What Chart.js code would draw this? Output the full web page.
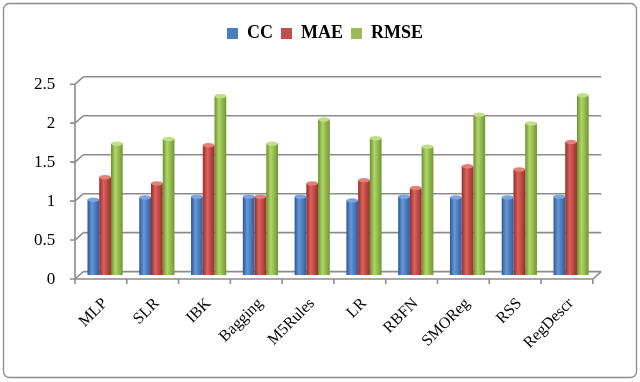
<!DOCTYPE html>
<html>
<head>
<meta charset="utf-8">
<script src="https://cdn.jsdelivr.net/npm/chart.js@4/dist/chart.umd.min.js"></script>
<style>
  html,body{margin:0;padding:0;background:#fff;}
  #wrap{width:640px;height:382px;position:relative;}
</style>
</head>
<body>
<div id="wrap"><canvas id="c" width="640" height="382"></canvas></div>
<script>
/* ===== Data ===== */
const METHODS = ['MLP','SLR','IBK','Bagging','M5Rules','LR','RBFN','SMOReg','RSS','RegDescr'];
const CC   = [0.97,1.00,1.01,1.01,1.01,0.96,1.01,1.00,1.00,1.01];
const MAE  = [1.26,1.18,1.67,1.01,1.18,1.22,1.12,1.40,1.36,1.71];
const RMSE = [1.69,1.75,2.30,1.69,2.00,1.76,1.65,2.06,1.95,2.31];
const Y_TICKS = [0,0.5,1,1.5,2,2.5];

// cylinder shading: edge, highlight, edge, cap
const SHADES = [
  ['#2b5896','#6797d6','#2f5c9c','#7aa5de'],
  ['#952c29','#dc625d','#9a2f2c','#e3807c'],
  ['#6a922c','#b0d66a','#6f9730','#c0df86'],
];
const DX = 4.2, DY = 3.7; // half depth of the 3D box
const SERIF = "'Liberation Serif','Times New Roman',serif";

// extra room under the legend, and legend nudged right
const legendGap = {
  id:'legendGap',
  beforeInit(chart){
    const fit = chart.legend.fit;
    chart.legend.fit = function(){ fit.bind(chart.legend)(); this.height += 28; };
  },
  afterLayout(chart){
    chart.legend.left += 21;
    chart.legend.right += 21;
  }
};

const frame3d = {
  id:'frame3d',
  beforeDraw(chart){
    const c = chart.ctx;
    c.save();
    c.strokeStyle = '#8c8c8c';
    c.lineWidth = 1.3;
    c.beginPath(); c.roundRect(3.5,3.5,633,374,6); c.stroke();
    c.restore();
  },
  beforeDatasetsDraw(chart){
    const {ctx:c, chartArea:{left,right,top,bottom}, scales:{y}} = chart;
    c.save();
    c.strokeStyle = '#8c8c8c';
    c.lineWidth = 1.6;
    c.beginPath();
    Y_TICKS.forEach(v => {
      const py = y.getPixelForValue(v);
      // back wall gridline
      c.moveTo(left+DX, py-DY); c.lineTo(right+DX, py-DY);
      // side connector
      c.moveTo(left-DX, py+DY); c.lineTo(left+DX, py-DY);
      // front tick
      c.moveTo(left-DX-5, py+DY); c.lineTo(left-DX, py+DY);
    });
    // front vertical axis
    c.moveTo(left-DX, y.getPixelForValue(2.5)+DY); c.lineTo(left-DX, bottom+DY);
    // floor front and right edge
    c.moveTo(left-DX, bottom+DY); c.lineTo(right-DX, bottom+DY); c.lineTo(right+DX, bottom-DY);
    // category tick marks
    const n = METHODS.length;
    for(let i=0;i<=n;i++){
      const bx = left-DX + i*(right-left)/n;
      c.moveTo(bx, bottom+DY); c.lineTo(bx, bottom+DY+5);
    }
    c.stroke();
    c.restore();

    // cylinder gradient per bar
    chart.data.datasets.forEach((ds,di) => {
      const meta = chart.getDatasetMeta(di);
      meta.data.forEach(el => {
        const {x,width} = el.getProps(['x','width'], true);
        const g = c.createLinearGradient(x-width/2,0,x+width/2,0);
        g.addColorStop(0, SHADES[di][0]);
        g.addColorStop(0.38, SHADES[di][1]);
        g.addColorStop(1, SHADES[di][2]);
        el.options = Object.assign({}, el.options, {backgroundColor:g});
      });
    });
  },
  afterDatasetsDraw(chart){
    const c = chart.ctx;
    chart.data.datasets.forEach((ds,di) => {
      const meta = chart.getDatasetMeta(di);
      meta.data.forEach(el => {
        const {x,y,width} = el.getProps(['x','y','width'], true);
        c.save();
        c.fillStyle = SHADES[di][3];
        c.beginPath(); c.ellipse(x, y, width/2, 2.2, 0, 0, Math.PI*2); c.fill();
        c.restore();
      });
    });
  }
};

new Chart(document.getElementById('c'), {
  type:'bar',
  plugins:[legendGap, frame3d],
  data:{
    labels:METHODS,
    datasets:[
      {label:'CC',   data:CC,   backgroundColor:'#4a7ebf'},
      {label:'MAE',  data:MAE,  backgroundColor:'#c0504d'},
      {label:'RMSE', data:RMSE, backgroundColor:'#9bbb59'},
    ]
  },
  options:{
    responsive:false, animation:false,
    categoryPercentage:0.68, barPercentage:1.0,
    layout:{padding:{left:11,right:43,top:16.5,bottom:10.5}},
    plugins:{
      legend:{position:'top',
        labels:{boxWidth:11,boxHeight:11,padding:8,color:'#000',font:{family:SERIF,size:18,weight:'bold'}}},
      tooltip:{enabled:false}
    },
    scales:{
      y:{min:0,max:2.5,
        afterFit(scale){ scale.width = 68.2; },
        grid:{display:false,drawTicks:false}, border:{display:false},
        ticks:{stepSize:0.5,padding:24,labelOffset:4,color:'#000',font:{family:SERIF,size:17},callback:v => String(v)}},
      x:{grid:{display:false,drawTicks:false}, border:{display:false},
        ticks:{minRotation:45,maxRotation:45,autoSkip:false,padding:19,labelOffset:0,color:'#000',font:{family:SERIF,size:16}}}
    }
  }
});
</script>
</body>
</html>
